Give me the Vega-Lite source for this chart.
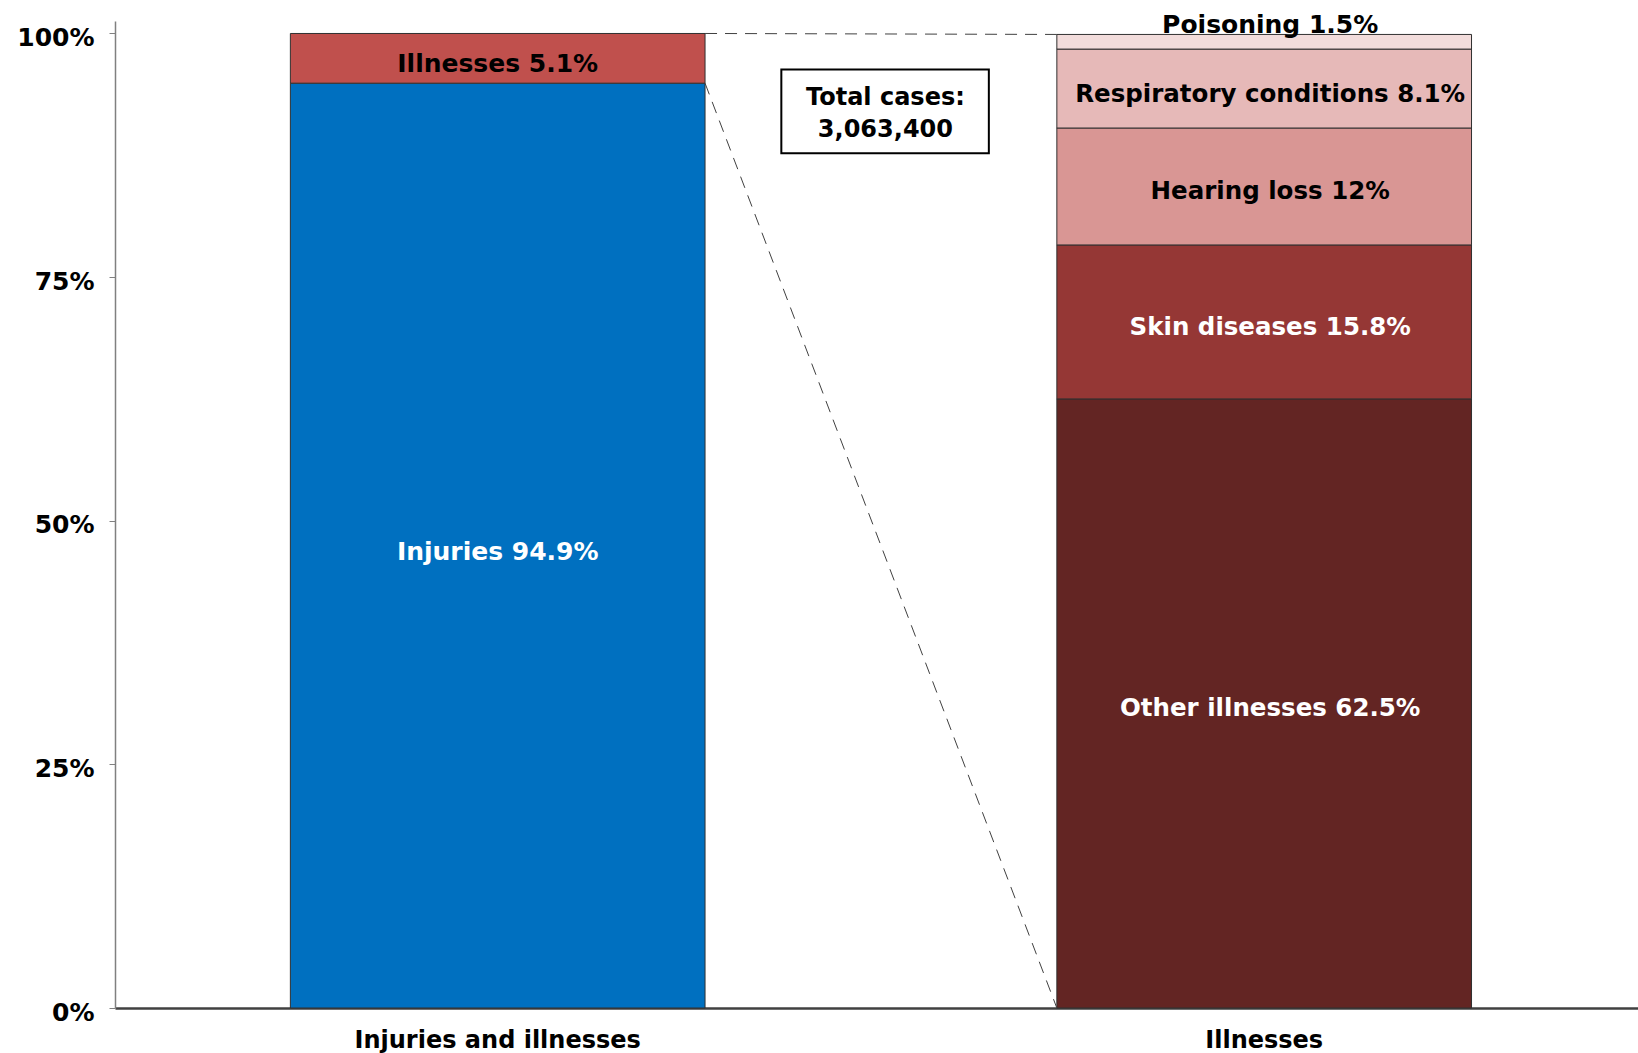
{
  "$schema": "https://vega.github.io/schema/vega-lite/v6.json",
  "width": 1523,
  "height": 987,
  "autosize": {"type": "none"},
  "padding": {"left": 115, "top": 21, "right": 0, "bottom": 45},
  "background": "white",
  "config": {
    "view": {"stroke": null},
    "font": "DejaVu Sans",
    "axis": {"grid": false, "labelFont": "DejaVu Sans", "labelFontWeight": "bold", "labelColor": "black"},
    "text": {"font": "DejaVu Sans", "fontWeight": "bold"}
  },
  "datasets": {
    "bars": [
      {"bar": "Injuries and illnesses", "segment": "Injuries", "share": 0.949, "order": 1, "label": "Injuries 94.9%"},
      {"bar": "Injuries and illnesses", "segment": "Illnesses", "share": 0.051, "order": 2, "label": "Illnesses 5.1%"},
      {"bar": "Illnesses", "segment": "Other illnesses", "share": 0.625, "order": 1, "label": "Other illnesses 62.5%"},
      {"bar": "Illnesses", "segment": "Skin diseases", "share": 0.158, "order": 2, "label": "Skin diseases 15.8%"},
      {"bar": "Illnesses", "segment": "Hearing loss", "share": 0.12, "order": 3, "label": "Hearing loss 12%"},
      {"bar": "Illnesses", "segment": "Respiratory conditions", "share": 0.081, "order": 4, "label": "Respiratory conditions 8.1%"},
      {"bar": "Illnesses", "segment": "Poisoning", "share": 0.015, "order": 5, "label": "Poisoning 1.5%"}
    ],
    "links": [
      {"from": "Injuries and illnesses", "to": "Illnesses", "top_from": 1.0, "top_to": 0.999},
      {"from": "Injuries and illnesses", "to": "Illnesses", "top_from": 0.949, "top_to": 0.0}
    ],
    "note": [
      {"lines": ["Total cases:", "3,063,400"]}
    ]
  },
  "layer": [
    {
      "data": {"name": "bars"},
      "transform": [
        {"stack": "share", "groupby": ["bar"], "sort": [{"field": "order"}], "as": ["y0", "y1"]}
      ],
      "mark": {"type": "bar", "stroke": "#303030", "strokeWidth": 1},
      "encoding": {
        "x": {
          "field": "bar", "type": "nominal",
          "scale": {"domain": ["Injuries and illnesses", "Illnesses"], "paddingInner": 0.459, "paddingOuter": 0.223, "align": 0.513},
          "axis": {"title": null, "ticks": false, "tickSize": 0, "labelAngle": 0, "labelFontSize": 24, "labelPadding": 20,
                   "labelLimit": 0, "domainColor": "#404040", "domainWidth": 2.5}
        },
        "y": {
          "field": "y0", "type": "quantitative",
          "scale": {"domain": [0, 1.0128], "nice": false, "zero": true},
          "axis": {"title": null, "values": [0, 0.25, 0.5, 0.75, 1], "format": ".0%", "labelFontSize": 25,
                   "labelPadding": 15, "tickSize": 6, "tickColor": "#808080", "domainColor": "#808080",
                   "domainWidth": 1.5, "labelOffset": 4}
        },
        "y2": {"field": "y1"},
        "color": {
          "field": "segment", "type": "nominal", "legend": null,
          "scale": {
            "domain": ["Injuries", "Illnesses", "Other illnesses", "Skin diseases", "Hearing loss", "Respiratory conditions", "Poisoning"],
            "range": ["#0070C0", "#C0504D", "#632523", "#953735", "#D99694", "#E6B9B8", "#F2DCDB"]
          }
        }
      }
    },
    {
      "data": {"name": "bars"},
      "transform": [
        {"stack": "share", "groupby": ["bar"], "sort": [{"field": "order"}], "as": ["y0", "y1"]},
        {"calculate": "(datum.y0 + datum.y1) / 2", "as": "ymid"},
        {"filter": "datum.bar == 'Injuries and illnesses'"}
      ],
      "mark": {"type": "text", "fontSize": 25, "baseline": "middle", "dy": 6},
      "encoding": {
        "x": {"field": "bar", "type": "nominal"},
        "y": {"field": "ymid", "type": "quantitative"},
        "text": {"field": "label"},
        "color": {
          "condition": {"test": "datum.segment == 'Injuries'", "value": "white"},
          "value": "black"
        }
      }
    },
    {
      "data": {"name": "bars"},
      "transform": [
        {"stack": "share", "groupby": ["bar"], "sort": [{"field": "order"}], "as": ["y0", "y1"]},
        {"calculate": "(datum.y0 + datum.y1) / 2", "as": "ymid"},
        {"filter": "datum.bar == 'Illnesses' && datum.segment != 'Poisoning'"}
      ],
      "mark": {"type": "text", "fontSize": 24.5, "baseline": "middle", "dy": 6, "dx": 6},
      "encoding": {
        "x": {"field": "bar", "type": "nominal"},
        "y": {"field": "ymid", "type": "quantitative"},
        "text": {"field": "label"},
        "color": {
          "condition": {"test": "indexof(['Other illnesses', 'Skin diseases'], datum.segment) >= 0", "value": "white"},
          "value": "black"
        }
      }
    },
    {
      "data": {"name": "bars"},
      "transform": [
        {"stack": "share", "groupby": ["bar"], "sort": [{"field": "order"}], "as": ["y0", "y1"]},
        {"filter": "datum.segment == 'Poisoning'"}
      ],
      "mark": {"type": "text", "fontSize": 25, "baseline": "alphabetic", "dy": -1, "dx": 6, "color": "black"},
      "encoding": {
        "x": {"field": "bar", "type": "nominal"},
        "y": {"field": "y1", "type": "quantitative"},
        "text": {"field": "label"}
      }
    },
    {
      "data": {"name": "links"},
      "mark": {"type": "rule", "strokeDash": [12, 8], "color": "#404040", "strokeWidth": 1},
      "encoding": {
        "x": {"field": "from", "type": "nominal", "bandPosition": 1},
        "x2": {"field": "to", "bandPosition": 0},
        "y": {"field": "top_from", "type": "quantitative"},
        "y2": {"field": "top_to"}
      }
    },
    {
      "data": {"name": "note"},
      "mark": {"type": "rect", "fill": "white", "stroke": "black", "strokeWidth": 2},
      "encoding": {
        "x": {"datum": "Injuries and illnesses", "bandPosition": 1.184},
        "x2": {"datum": "Illnesses", "bandPosition": -0.164},
        "y": {"datum": 0.963},
        "y2": {"datum": 0.877}
      }
    },
    {
      "data": {"name": "note"},
      "mark": {"type": "text", "fontSize": 24, "baseline": "middle", "lineHeight": 32, "color": "black", "dy": -14},
      "encoding": {
        "x": {"datum": "Injuries and illnesses", "bandPosition": 1.435},
        "y": {"datum": 0.9197},
        "text": {"field": "lines"}
      }
    }
  ]
}
